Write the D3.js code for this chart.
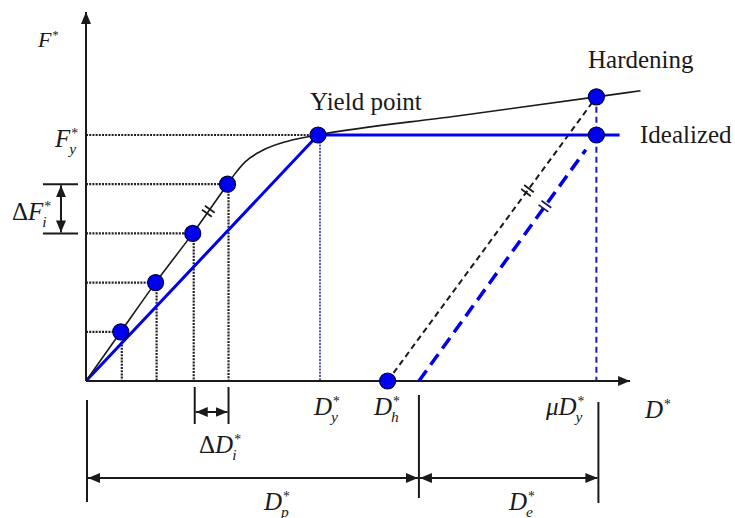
<!DOCTYPE html>
<html>
<head>
<meta charset="utf-8">
<script src="https://cdn.jsdelivr.net/npm/d3@7"></script>
<style>
  html, body { margin: 0; padding: 0; background: #fff; }
  svg { display: block; }
  text { font-family: "Liberation Serif", "Times New Roman", serif; fill: #1a1a1a; }
</style>
</head>
<body>
<svg id="chart" width="735" height="518"></svg>
<script>
// Normalised capacity curve: displacement D* and force F* (yield = 1, 1)
const stepD = [0.15, 0.30, 0.46, 0.61];          // incremental points on the curve
const stepF = [0.2, 0.4, 0.6, 0.8];
const yieldD = 1.0, yieldF = 1.0;
const curveD = [0, 0.15, 0.30, 0.46, 0.61, 0.64, 0.685, 0.76, 0.87, 1.0, 1.6, 2.2, 2.39];
const curveF = [0, 0.20, 0.40, 0.60, 0.80, 0.84, 0.89, 0.937, 0.975, 1.0, 1.077, 1.155, 1.18];
const idealD = [0, 1.0, 2.30];                   // elastic–perfectly plastic idealisation
const idealF = [0, 1.0, 1.0];
const muD = 2.2;                                 // ultimate displacement  μD*y
const hardF = 1.155;                             // force at μD*y on the hardening curve
const hD = 1.30;                                 // residual displacement D*h
const pD = 1.435;                                // plastic displacement D*p
const axisMaxD = 2.345, axisMaxF = 1.5;

const svg = d3.select("#chart");
const x = d3.scaleLinear().domain([0, 1]).range([86, 318]);
const y = d3.scaleLinear().domain([0, 1]).range([381, 135]);

const BLUE = "#0000f0", INK = "#1a1a1a";
const line = d3.line().x(d => x(d[0])).y(d => y(d[1]));

// arrowhead marker
const defs = svg.append("defs");
defs.append("marker").attr("id", "arr")
  .attr("viewBox", "0 0 12 10").attr("refX", 12).attr("refY", 5)
  .attr("markerWidth", 12).attr("markerHeight", 10)
  .attr("markerUnits", "userSpaceOnUse").attr("orient", "auto-start-reverse")
  .append("path").attr("d", "M0,0L12,5L0,10Z").attr("fill", INK);

const seg = (x1, y1, x2, y2) => svg.append("line")
  .attr("x1", x1).attr("y1", y1).attr("x2", x2).attr("y2", y2);
const dotted = s => s.attr("stroke", "#222").attr("stroke-width", 2.2).attr("stroke-dasharray", "2,1.2");

// guide lines from the y axis to each point and down to the x axis
stepD.forEach((d, i) => {
  dotted(seg(x(0), y(stepF[i]), x(d), y(stepF[i])));
  dotted(seg(x(d) + 1, y(stepF[i]), x(d) + 1, y(0)));
});
dotted(seg(x(0), y(yieldF), x(yieldD), y(yieldF)));
seg(x(yieldD) + 2, y(yieldF), x(yieldD) + 2, y(0)).attr("stroke", "#3030a0").attr("stroke-width", 1.6).attr("stroke-dasharray", "2,1.2");
seg(x(muD), y(hardF), x(muD), y(0)).attr("stroke", "#1a1ab0").attr("stroke-width", 2).attr("stroke-dasharray", "6,4");

// axes
seg(x(0), y(0), x(0), y(axisMaxF)).attr("stroke", INK).attr("stroke-width", 2).attr("marker-end", "url(#arr)");
seg(x(0), y(0), x(axisMaxD), y(0)).attr("stroke", INK).attr("stroke-width", 2).attr("marker-end", "url(#arr)");

// unloading branches
seg(x(hD), y(0), x(muD), y(hardF)).attr("stroke", INK).attr("stroke-width", 2).attr("stroke-dasharray", "6,4");
const tEnd = 0.94;
seg(x(pD), y(0), x(pD + tEnd * (muD - pD)), y(tEnd * yieldF))
  .attr("stroke", BLUE).attr("stroke-width", 3.5).attr("stroke-dasharray", "13,7");

// idealised bilinear curve
svg.append("path").datum(d3.zip(idealD, idealF)).attr("d", line)
  .attr("fill", "none").attr("stroke", BLUE).attr("stroke-width", 3);

// capacity curve
svg.append("path").datum(d3.zip(curveD, curveF))
  .attr("d", line.curve(d3.curveMonotoneX))
  .attr("fill", "none").attr("stroke", INK).attr("stroke-width", 1.6);
line.curve(d3.curveLinear);

// equal-slope marks (pairs of short strokes across a segment)
function hash(x1, y1, x2, y2, t, color) {
  const px = x1 + t * (x2 - x1), py = y1 + t * (y2 - y1);
  const len = Math.hypot(x2 - x1, y2 - y1);
  const ux = (x2 - x1) / len, uy = (y2 - y1) / len;
  const nx = -uy, ny = ux;
  [-2.5, 2.5].forEach(o => {
    const cx = px + ux * o, cy = py + uy * o;
    seg(cx - nx * 6, cy - ny * 6, cx + nx * 6, cy + ny * 6).attr("stroke", color).attr("stroke-width", 1.8);
  });
}
hash(x(stepD[2]), y(stepF[2]), x(stepD[3]), y(stepF[3]), 0.45, INK);
hash(x(hD), y(0), x(muD), y(hardF), 0.67, INK);
hash(x(pD), y(0), x(muD), y(yieldF), 0.71, "#1a1a60");

// points
const pts = d3.zip(stepD, stepF).concat([[yieldD, yieldF], [muD, hardF], [muD, yieldF], [hD, 0]]);
svg.selectAll("circle.pt").data(pts).join("circle").attr("class", "pt")
  .attr("cx", d => x(d[0])).attr("cy", d => y(d[1])).attr("r", 8)
  .attr("fill", BLUE).attr("stroke", "#000040").attr("stroke-width", 1.2);

// ΔF*i bracket
const fy1 = y(stepF[3]), fy2 = y(stepF[2]);
seg(43, fy1, 78, fy1).attr("stroke", INK).attr("stroke-width", 2);
seg(43, fy2, 78, fy2).attr("stroke", INK).attr("stroke-width", 2);
seg(61, fy1 + 1, 61, fy2 - 1).attr("stroke", INK).attr("stroke-width", 2)
  .attr("marker-start", "url(#arr)").attr("marker-end", "url(#arr)");

// ΔD*i bracket
const dx1 = x(stepD[2]) + 2, dx2 = x(stepD[3]) + 1;
seg(dx1, 387, dx1, 424).attr("stroke", INK).attr("stroke-width", 2);
seg(dx2, 387, dx2, 424).attr("stroke", INK).attr("stroke-width", 2);
seg(dx1 + 1, 412, dx2 - 1, 412).attr("stroke", INK).attr("stroke-width", 2)
  .attr("marker-start", "url(#arr)").attr("marker-end", "url(#arr)");

// D*p and D*e dimensions
seg(x(0) + 1, 400, x(0) + 1, 502).attr("stroke", INK).attr("stroke-width", 2);
seg(x(pD), 395, x(pD), 498).attr("stroke", INK).attr("stroke-width", 2);
seg(x(muD) + 2, 402, x(muD) + 2, 503).attr("stroke", INK).attr("stroke-width", 2);
seg(x(0) + 2, 478, x(pD) - 1, 478).attr("stroke", INK).attr("stroke-width", 2)
  .attr("marker-start", "url(#arr)").attr("marker-end", "url(#arr)");
seg(x(pD) + 1, 478, x(muD) + 1, 478).attr("stroke", INK).attr("stroke-width", 2)
  .attr("marker-start", "url(#arr)").attr("marker-end", "url(#arr)");

// plain text labels
const word = (tx, ty, s) => svg.append("text").attr("x", tx).attr("y", ty)
  .attr("font-size", 25).text(s);
word(310, 110, "Yield point");
word(588, 68, "Hardening");
word(640, 143, "Idealized");

// symbol labels: [prefix upright] italic main, superscript star, italic subscript
function sym(tx, ty, main, sub, opts = {}) {
  const size = opts.size || 25;
  const t = svg.append("text").attr("x", tx).attr("y", ty).attr("font-size", size);
  if (opts.pre) t.append("tspan").text(opts.pre);
  t.append("tspan").attr("font-style", "italic").text(main);
  const w = t.node().getComputedTextLength();
  svg.append("text").attr("x", tx + w + 1).attr("y", ty - size * 0.38)
    .attr("font-size", size * 0.55).text("*");
  if (sub) svg.append("text").attr("x", tx + w - 1).attr("y", ty + size * 0.26)
    .attr("font-size", size * 0.62).attr("font-style", "italic").text(sub);
}
sym(38, 47, "F", null, { size: 22 });
sym(55, 147, "F", "y");
sym(12, 220, "F", "i", { pre: "Δ" });
sym(314, 415, "D", "y");
sym(374, 415, "D", "h");
sym(546, 415, "μD", "y");
sym(645, 418, "D", null);
sym(199, 453, "D", "i", { pre: "Δ" });
sym(264, 510, "D", "p");
sym(509, 510, "D", "e");
</script>
</body>
</html>
